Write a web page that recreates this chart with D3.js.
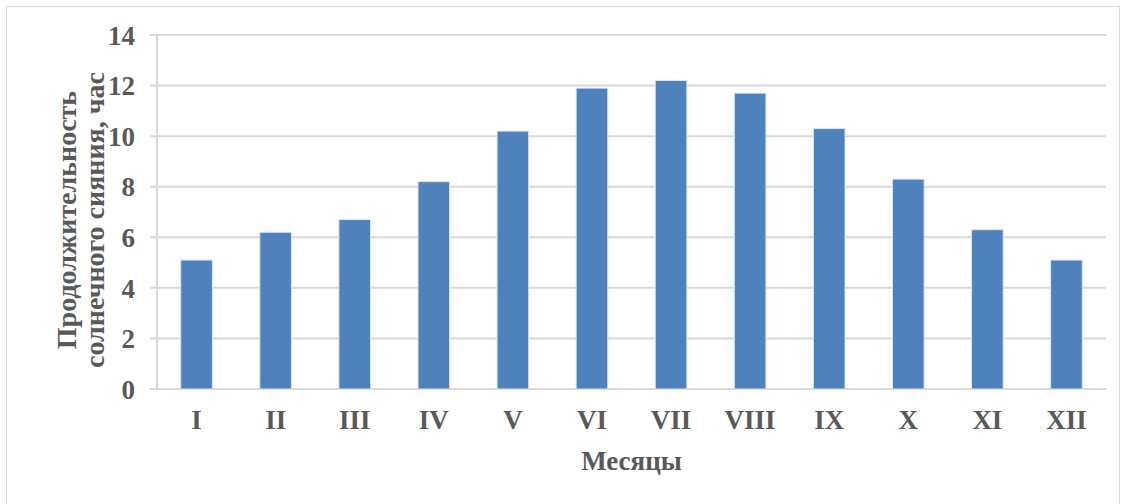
<!DOCTYPE html>
<html>
<head>
<meta charset="utf-8">
<script src="https://cdn.jsdelivr.net/npm/d3@7"></script>
<style>
  body { margin: 0; background: #fff; }
  text { font-family: "Liberation Serif", "Times New Roman", serif; font-weight: bold; fill: #595959; }
</style>
</head>
<body>
<div id="chart"></div>
<script>
// data
var months = ["I", "II", "III", "IV", "V", "VI", "VII", "VIII", "IX", "X", "XI", "XII"];
var hours = [5.1, 6.2, 6.7, 8.2, 10.2, 11.9, 12.2, 11.7, 10.3, 8.3, 6.3, 5.1];
var yTicks = [0, 2, 4, 6, 8, 10, 12, 14];

var svgWidth = 1126, svgHeight = 504;
var margin = { top: 35, right: 20, bottom: 115, left: 157 };
var width = 1106 - margin.left;
var height = 389 - margin.top;

var svg = d3.select("#chart").append("svg")
  .attr("width", svgWidth)
  .attr("height", svgHeight);

// outer frame
svg.append("rect")
  .attr("x", 6.5).attr("y", 6.5)
  .attr("width", 1113).attr("height", 505)
  .attr("fill", "none")
  .attr("stroke", "#d9d9d9");

var chartGroup = svg.append("g")
  .attr("transform", `translate(${margin.left}, ${margin.top})`);

var x = d3.scaleBand().domain(months).range([0, width]).paddingInner(0.6).paddingOuter(0.3);
var y = d3.scaleLinear().domain([0, 14]).range([height, 0]);

// gridlines
chartGroup.append("g")
  .selectAll("line")
  .data(yTicks)
  .enter()
  .append("line")
  .attr("x1", -7).attr("x2", width)
  .attr("y1", d => y(d)).attr("y2", d => y(d))
  .attr("stroke", "#d9d9d9")
  .attr("stroke-width", 2);

// y axis line
chartGroup.append("line")
  .attr("x1", 0).attr("x2", 0)
  .attr("y1", 0).attr("y2", height)
  .attr("stroke", "#d9d9d9")
  .attr("stroke-width", 2);

// bars
chartGroup.selectAll("rect.bar")
  .data(hours)
  .enter()
  .append("rect")
  .attr("class", "bar")
  .attr("x", (d, i) => x(months[i]))
  .attr("y", d => y(d))
  .attr("width", x.bandwidth())
  .attr("height", d => height - y(d))
  .attr("fill", "#4f81bd")
  .attr("stroke", "#dce6f2")
  .attr("stroke-width", 1);

// axes (text only)
var leftAxis = d3.axisLeft(y).tickValues(yTicks).tickSize(0).tickPadding(22);
chartGroup.append("g").call(leftAxis)
  .call(g => g.select(".domain").remove())
  .selectAll("text")
  .attr("font-size", 27)
  .attr("font-family", null)
  .attr("fill", null)
  .attr("dy", "0.34em");

var bottomAxis = d3.axisBottom(x).tickSize(0).tickPadding(21);
chartGroup.append("g")
  .attr("transform", `translate(0, ${height})`)
  .call(bottomAxis)
  .call(g => g.select(".domain").remove())
  .selectAll("text")
  .attr("font-size", 27)
  .attr("font-family", null)
  .attr("fill", null);

// axis titles
chartGroup.append("text")
  .attr("x", width / 2)
  .attr("y", height + 81)
  .attr("text-anchor", "middle")
  .attr("font-size", 27)
  .text("Месяцы");

var yTitle = chartGroup.append("text")
  .attr("transform", `translate(${-157 + 66}, ${height / 2 + 8}) rotate(-90)`)
  .attr("text-anchor", "middle")
  .attr("font-size", 28);
yTitle.append("tspan").attr("x", 0).attr("dy", "0.35em").text("Продолжительность");
yTitle.append("tspan").attr("x", 0).attr("dy", "1.0em").text("солнечного сияния, час");
</script>
</body>
</html>
